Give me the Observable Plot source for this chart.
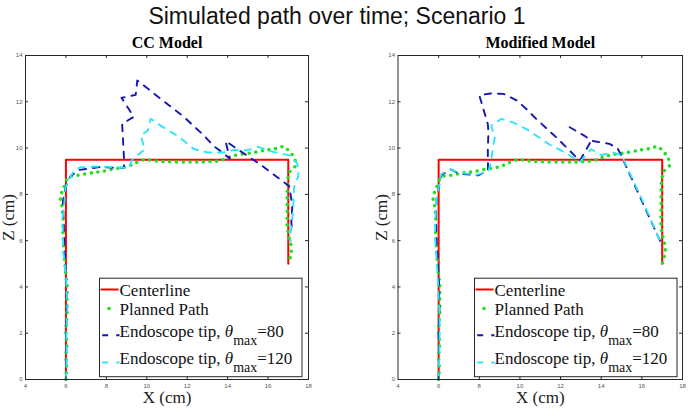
<!DOCTYPE html>
<html>
<head>
<meta charset="utf-8">
<script src="https://cdn.jsdelivr.net/npm/d3@7"></script>
<script src="https://cdn.jsdelivr.net/npm/@observablehq/plot@0.6"></script>
<style>
  html, body { margin: 0; padding: 0; background: #fff; }
  #wrap { position: relative; width: 689px; height: 410px; overflow: hidden; background: #fff; }
  #wrap > svg, #wrap > figure { position: absolute; top: 0; margin: 0; }
</style>
</head>
<body>
<div id="wrap"></div>
<script>
// ---------- data ----------
const chartTitle = "Simulated path over time; Scenario 1";
const panelTitles = ["CC Model", "Modified Model"];
const xLabel = "X (cm)";
const yLabel = "Z (cm)";
const xTickLabels = [4, 6, 8, 10, 12, 14, 16, 18];
const yTickLabels = [0, 2, 4, 6, 8, 10, 12, 14];
const xInnerTicks = [6, 8, 10, 12, 14, 16];
const yInnerTicks = [2, 4, 6, 8, 10, 12];
const legendLabels = ["Centerline", "Planned Path", "Endoscope tip, ", "Endoscope tip, "];
const legendTheta = ["80", "120"];

const centerX = [6, 6, 17, 17];
const centerZ = [0, 9.5, 9.5, 5];

const plannedX = [6.0, 6.03, 6.0, 6.05, 6.0, 6.02, 6.06, 6.05, 6.06, 6.0, 5.95, 5.9, 5.88, 5.85, 5.86, 5.8, 5.73, 5.9, 6.14, 6.56, 7.2, 7.71, 8.4, 9.03, 9.5, 9.86, 10.5, 11.0, 12.0, 12.66, 13.2, 13.65, 14.3, 15.3, 15.96, 16.4, 16.78, 17.05, 17.28, 17.36, 17.1, 16.98, 16.95, 16.95, 16.95, 17.05, 17.15, 17.1, 17.0];
const plannedZ = [0, 0.5, 1.0, 1.5, 2.0, 2.5, 3.0, 3.5, 4.0, 4.5, 5.0, 5.5, 6.0, 6.5, 7.0, 7.5, 7.87, 8.3, 8.75, 8.82, 8.92, 8.98, 9.1, 9.2, 9.38, 9.49, 9.44, 9.41, 9.4, 9.4, 9.42, 9.46, 9.67, 9.81, 9.92, 9.98, 10.06, 9.85, 9.6, 9.24, 9.02, 8.67, 8.0, 7.3, 6.6, 6.1, 5.7, 5.3, 5.0];

// CC model, theta_max = 80
const ccBlueX = [6.0, 6.02, 6.0, 6.05, 6.02, 5.97, 5.92, 5.88, 5.85, 5.98, 6.2, 6.6, 7.7, 8.4, 8.87, 8.87, 8.78, 9.36, 8.75, 9.45, 9.53, 11.83, 12.82, 13.3, 13.75, 14.1, 13.9, 15.63, 17.05, 17.2, 17.15, 17.2];
const ccBlueZ = [0, 1, 2, 3, 4, 5, 6, 7, 7.7, 8.3, 8.75, 9.05, 9.18, 9.15, 9.15, 9.6, 11.05, 11.35, 12.17, 12.3, 12.92, 11.35, 10.55, 10.1, 9.8, 9.55, 10.3, 9.28, 8.35, 7.5, 6.8, 6.3];
// CC model, theta_max = 120
const ccCyanX = [6.0, 6.04, 6.02, 6.07, 6.05, 6.0, 5.88, 5.85, 5.84, 5.9, 5.98, 6.14, 6.39, 6.72, 7.71, 8.37, 9.11, 9.3, 9.9, 9.7, 10.05, 10.19, 10.68, 11.5, 12.33, 12.99, 13.81, 14.3, 14.97, 15.5, 16.2, 17.1, 17.45, 17.5, 17.28, 17.25, 17.2, 17.12, 17.12];
const ccCyanZ = [0, 1, 2, 3, 3.5, 4.5, 5.5, 6.2, 7.0, 7.4, 8.3, 8.6, 9.02, 9.17, 9.21, 9.17, 9.14, 9.52, 9.95, 10.55, 10.75, 11.27, 10.97, 10.54, 9.96, 9.81, 9.81, 9.92, 9.9, 10.05, 9.85, 9.67, 9.33, 8.8, 8.3, 7.5, 7.0, 6.36, 5.95];

// Modified model, theta_max = 80 (NaN = break in the trace)
const modBlueX = [6.0, 6.02, 6.0, 6.04, 6.02, 5.97, 5.9, 5.87, 5.9, 6.0, 6.15, 6.6, 7.0, 7.95, 8.43, 8.42, 8.45, 8.42, 8.0, 8.55, 9.2, 9.86, 10.35, 10.85, 11.33, 11.83, 12.32, 12.95, 13.51, NaN, 12.45, 13.18, 13.51, 14.41, 14.8, 14.95, 15.77, 16.59, 16.92];
const modBlueZ = [0, 1, 2, 3, 4, 5, 6, 7, 7.8, 8.3, 8.85, 9.08, 8.9, 8.82, 9.02, 9.9, 10.7, 11.04, 12.28, 12.36, 12.34, 12.05, 11.66, 11.22, 10.83, 10.43, 10.0, 9.45, 10.32, NaN, 10.9, 10.53, 10.32, 10.18, 10.0, 9.74, 8.16, 6.58, 5.95];
// Modified model, theta_max = 120
const modCyanX = [6.0, 6.03, 6.05, 6.05, 6.0, 5.95, 5.88, 5.82, 5.85, 5.9, 6.0, 6.13, 6.6, 7.0, 7.9, 8.45, 8.55, 8.76, 8.59, 9.09, 9.66, 10.32, 10.89, 11.46, 12.04, 12.6, 12.95, 13.5, 14.0, 14.6, 15.0, 15.2, 16.1, 16.92];
const modCyanZ = [0, 1, 2, 2.7, 3.5, 4.5, 5.5, 6.2, 7.0, 7.8, 8.3, 8.88, 9.08, 8.93, 8.85, 9.0, 9.3, 10.46, 10.97, 11.26, 11.11, 10.82, 10.49, 10.15, 9.89, 9.6, 9.4, 9.95, 9.7, 9.8, 9.7, 9.31, 7.6, 5.93];

// ---------- helpers ----------
const zip = (xs, zs) => xs.map((x, i) => ({x, z: zs[i]}));
const centerline = zip(centerX, centerZ);
const planned = zip(plannedX, plannedZ);

const RED = "#ff0000", GREEN = "#1fe01f", BLUE = "#1616b0", CYAN = "#30e6f6", AX = "#262626";
const SERIF = "'Liberation Serif', 'DejaVu Serif', serif";
const SANS = "'Liberation Sans', Arial, sans-serif";

const W = 344, H = 410, MT = 55, MB = 31;

function panel({title, blue, cyan, mLeft, mRight, yDx}) {
  const innerH = H - MT - MB;
  const innerW = W - mLeft - mRight;
  return Plot.plot({
    width: W, height: H,
    marginLeft: mLeft, marginRight: mRight, marginTop: MT, marginBottom: MB,
    x: {domain: [4, 18], label: null},
    y: {domain: [0, 14], label: null},
    style: {background: "transparent", overflow: "visible", fontFamily: SERIF},
    marks: [
      Plot.line(centerline, {x: "x", y: "z", stroke: RED, strokeWidth: 2}),
      Plot.line(planned, {x: "x", y: "z", stroke: GREEN, strokeWidth: 3.6, strokeDasharray: "0,6.7", strokeLinecap: "round", curve: "catmull-rom"}),
      Plot.line(blue, {x: "x", y: "z", stroke: BLUE, strokeWidth: 1.9, strokeDasharray: "6.5,7"}),
      Plot.line(cyan, {x: "x", y: "z", stroke: CYAN, strokeWidth: 1.9, strokeDasharray: "6.5,7"}),
      Plot.frame({stroke: AX, strokeWidth: 1}),
      Plot.tickX(xInnerTicks, {x: d => d, insetTop: innerH - 3, stroke: AX}),
      Plot.tickX(xInnerTicks, {x: d => d, insetBottom: innerH - 3, stroke: AX}),
      Plot.tickY(yInnerTicks, {y: d => d, insetRight: innerW - 3, stroke: AX}),
      Plot.tickY(yInnerTicks, {y: d => d, insetLeft: innerW - 3, stroke: AX}),
      Plot.axisX(xTickLabels, {tickSize: 0, tickPadding: 4, fontSize: 6, fill: "#555", fontFamily: SANS, label: null}),
      Plot.axisY(yTickLabels, {tickSize: 0, tickPadding: 3, fontSize: 6, fill: "#555", fontFamily: SANS, label: null}),
      Plot.text([title], {text: d => d, frameAnchor: "top", textAnchor: "middle", lineAnchor: "bottom", dy: -8, fontWeight: "bold", fontSize: 16, fontFamily: SERIF, fill: "#000"}),
      Plot.text([xLabel], {text: d => d, frameAnchor: "bottom", textAnchor: "middle", lineAnchor: "bottom", dy: 23, fontSize: 17, fontFamily: SERIF, fill: "#222"}),
      Plot.text([yLabel], {text: d => d, frameAnchor: "left", textAnchor: "middle", lineAnchor: "bottom", rotate: -90, dx: yDx, fontSize: 17, fontFamily: SERIF, fill: "#222"})
    ]
  });
}

const wrap = document.getElementById("wrap");
const left = panel({title: panelTitles[0], blue: zip(ccBlueX, ccBlueZ), cyan: zip(ccCyanX, ccCyanZ), mLeft: 25, mRight: 36, yDx: -12});
left.style.left = "0px";
wrap.appendChild(left);
const right = panel({title: panelTitles[1], blue: zip(modBlueX, modBlueZ), cyan: zip(modCyanX, modCyanZ), mLeft: 52.5, mRight: 7, yDx: -11.5});
right.style.left = "345px";
wrap.appendChild(right);

// ---------- overlay: title + legends ----------
const ov = d3.create("svg").attr("width", 689).attr("height", 410)
  .style("position", "absolute").style("left", "0px").style("top", "0px").style("pointer-events", "none");
ov.append("text").attr("x", 337).attr("y", 23.5).attr("text-anchor", "middle")
  .attr("font-family", SANS).attr("font-size", 23).attr("fill", "#111").text(chartTitle);

function legend(x0, y0) {
  const g = ov.append("g").attr("transform", `translate(${x0},${y0})`);
  g.append("rect").attr("x", 0).attr("y", 0).attr("width", 202.5).attr("height", 98.5)
    .attr("fill", "#fff").attr("stroke", AX).attr("stroke-width", 1);
  g.append("line").attr("x1", 1).attr("x2", 19).attr("y1", 11.3).attr("y2", 11.3).attr("stroke", RED).attr("stroke-width", 2);
  g.append("circle").attr("cx", 9.5).attr("cy", 30.3).attr("r", 1.8).attr("fill", GREEN);
  g.append("line").attr("x1", 2.7).attr("x2", 20).attr("y1", 57).attr("y2", 57).attr("stroke", BLUE).attr("stroke-width", 1.9).attr("stroke-dasharray", "6,8");
  g.append("line").attr("x1", 2.7).attr("x2", 20).attr("y1", 84.3).attr("y2", 84.3).attr("stroke", CYAN).attr("stroke-width", 1.9).attr("stroke-dasharray", "6,8");
  const base = [17.7, 37, 58.7, 86.3];
  legendLabels.forEach((lab, i) => {
    const t = g.append("text").attr("x", 20).attr("y", base[i]).attr("font-family", SERIF).attr("font-size", 17).attr("fill", "#111");
    t.append("tspan").text(lab);
    if (i >= 2) {
      t.append("tspan").attr("font-style", "italic").text("θ");
      t.append("tspan").attr("dy", 8).attr("font-size", 14).text("max");
      t.append("tspan").attr("dy", -8).text("=" + legendTheta[i - 2]);
    }
  });
}
legend(99.5, 278.2);
legend(474.5, 278.2);
wrap.appendChild(ov.node());
</script>
</body>
</html>
